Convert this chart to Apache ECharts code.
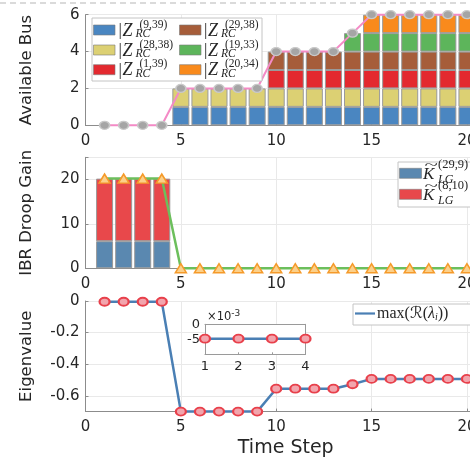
<!DOCTYPE html>
<html><head><meta charset="utf-8">
<script src="https://cdn.jsdelivr.net/npm/echarts@6/dist/echarts.min.js"></script>
<style>html,body{margin:0;padding:0;background:#fff;}#c{width:470px;height:460px;}</style>
</head><body><div id="c"></div>
<script>
// ---- data ----
const timeSteps = [1,2,3,4,5,6,7,8,9,10,11,12,13,14,15,16,17,18,19,20];
// top panel: stacked available buses
const busZ939  = [0,0,0,0,1,1,1,1,1,1,1,1,1,1,1,1,1,1,1,1];
const busZ2838 = [0,0,0,0,1,1,1,1,1,1,1,1,1,1,1,1,1,1,1,1];
const busZ139  = [0,0,0,0,0,0,0,0,0,1,1,1,1,1,1,1,1,1,1,1];
const busZ2938 = [0,0,0,0,0,0,0,0,0,1,1,1,1,1,1,1,1,1,1,1];
const busZ1933 = [0,0,0,0,0,0,0,0,0,0,0,0,0,1,1,1,1,1,1,1];
const busZ2034 = [0,0,0,0,0,0,0,0,0,0,0,0,0,0,1,1,1,1,1,1];
const availableBus = [0,0,0,0,2,2,2,2,2,4,4,4,4,5,6,6,6,6,6,6];
// middle panel: IBR droop gains
const droopK299 = [6.1,6.1,6.1,6.1,0,0,0,0,0,0,0,0,0,0,0,0,0,0,0,0];
const droopK810 = [14.1,14.1,14.1,14.1,0,0,0,0,0,0,0,0,0,0,0,0,0,0,0,0];
const droopTotal = [20.2,20.2,20.2,20.2,0,0,0,0,0,0,0,0,0,0,0,0,0,0,0,0];
// bottom panel: max real eigenvalue
const eigenMax = [-0.0048,-0.0048,-0.0048,-0.0048,-0.70,-0.70,-0.70,-0.70,-0.70,
                  -0.555,-0.555,-0.555,-0.555,-0.527,-0.493,-0.493,-0.493,-0.493,-0.493,-0.493];
// inset (x 1e-3)
const insetSteps = [1,2,3,4];
const insetEigen = [-4.8,-4.8,-4.8,-4.8];
// tick labels
const xTicks = [0,5,10,15,20];

// ---- layout helpers ----
const TXT = '#262626';
const FONT = 'DejaVu Sans';
const SERIF = 'Liberation Serif';
const PL = 85.5, PW = 400.5, XMAX = 21, UNIT = PW / XMAX;
const pairsRaw = (xs, vals) => xs.map((t, i) => [t, vals[i]]);
const nz = vals => vals.map(v => (v === 0 ? null : v));

function mainX(gi, withName) {
  return {
    type: 'value', gridIndex: gi, min: 0, max: XMAX, interval: 5,
    axisLine: { show: true, onZero: false, lineStyle: { color: '#8c8c8c' } },
    axisTick: { show: true, inside: true, length: 3, lineStyle: { color: '#8c8c8c' } },
    splitLine: { show: true, lineStyle: { color: '#e9e9e9' } },
    axisLabel: { color: TXT, fontSize: 15, fontFamily: FONT, margin: 8,
      formatter: v => xTicks.indexOf(v) >= 0 ? String(v) : '' },
    name: withName ? 'Time Step' : '', nameLocation: 'middle', nameGap: 27,
    nameTextStyle: { color: TXT, fontSize: 19, fontFamily: FONT }
  };
}
function mainY(gi, name, extra) {
  return Object.assign({
    type: 'value', gridIndex: gi,
    axisLine: { show: true, onZero: false, lineStyle: { color: '#8c8c8c' } },
    axisTick: { show: true, inside: true, length: 3, lineStyle: { color: '#8c8c8c' } },
    splitLine: { show: true, lineStyle: { color: '#e9e9e9' } },
    axisLabel: { color: TXT, fontSize: 15, fontFamily: FONT, margin: 6 },
    name: name, nameLocation: 'middle', nameGap: 50,
    nameTextStyle: { color: TXT, fontSize: 16.5, fontFamily: FONT }
  }, extra);
}

const barBorder = { borderColor: '#9a9a9a', borderWidth: 1 };
function bar(name, vals, color, axisIdx, stack) {
  return { name, type: 'bar', xAxisIndex: axisIdx, yAxisIndex: axisIdx, stack, barWidth: 17, z: 2,
    data: nz(vals), itemStyle: Object.assign({ color }, barBorder) };
}

// ---- legends (graphic) ----
const G = [];
G.push({ type: 'line', shape: { x1: 0, y1: 3, x2: 470, y2: 3 }, style: { stroke: '#b5b5b5', lineWidth: 1, lineDash: [6, 4] }, z: 100 });
G.push({ type: 'rect', shape: { x: 92, y: 18, width: 170, height: 63 }, style: { fill: '#fff', stroke: '#c4c4c4', lineWidth: 1 }, z: 100 });
const topLeg = [
  ['(9,39)', '#4a86c1', 0, 30], ['(28,38)', '#dcd073', 0, 50], ['(1,39)', '#e3292f', 0, 69.7],
  ['(29,38)', '#a65d3a', 1, 30], ['(19,33)', '#5db55b', 1, 50], ['(20,34)', '#f98a1c', 1, 69.7]
];
topLeg.forEach(([sup, col, c, cy]) => {
  const sx = c === 0 ? 93.5 : 179.5;
  const tx = c === 0 ? 117.5 : 203;
  G.push({ type: 'rect', shape: { x: sx, y: cy - 5, width: 21.5, height: 10 }, style: { fill: col, stroke: '#7a7a7a', lineWidth: 0.6 }, z: 101 });
  G.push({ type: 'text', x: tx + 1, y: cy + 1, style: { text: '|', font: '17px "' + SERIF + '"', fill: TXT, verticalAlign: 'middle' }, z: 101 });
  G.push({ type: 'text', x: tx + 5, y: cy + 1, style: { text: 'Z', font: 'italic 18px "' + SERIF + '"', fill: TXT, verticalAlign: 'middle' }, z: 101 });
  G.push({ type: 'text', x: tx + 22, y: cy - 5.5, style: { text: sup, font: '11.5px "' + SERIF + '"', fill: TXT, verticalAlign: 'middle' }, z: 101 });
  G.push({ type: 'text', x: tx + 18, y: cy + 4, style: { text: 'RC', font: 'italic 11.5px "' + SERIF + '"', fill: TXT, verticalAlign: 'middle' }, z: 101 });
});
G.push({ type: 'rect', shape: { x: 398, y: 162, width: 90, height: 45 }, style: { fill: '#fff', stroke: '#c4c4c4', lineWidth: 1 }, z: 100 });
[['(29,9)', '#5a88b0', 173.3], ['(8,10)', '#e8484b', 194.3]].forEach(([sup, col, cy]) => {
  G.push({ type: 'rect', shape: { x: 399.5, y: cy - 5, width: 22, height: 10 }, style: { fill: col, stroke: '#7a7a7a', lineWidth: 0.6 }, z: 101 });
  G.push({ type: 'text', x: 423, y: cy + 1, style: { text: 'K', font: 'italic 17px "' + SERIF + '"', fill: TXT, verticalAlign: 'middle' }, z: 101 });
  G.push({ type: 'text', x: 424.5, y: cy - 8, scaleX: 1.9, style: { text: '~', font: '13px "' + SERIF + '"', fill: TXT, verticalAlign: 'middle' }, z: 101 });
  G.push({ type: 'text', x: 438, y: cy - 9, style: { text: sup, font: '12.5px "' + SERIF + '"', fill: TXT, verticalAlign: 'middle' }, z: 101 });
  G.push({ type: 'text', x: 438, y: cy + 6.5, style: { text: 'LG', font: 'italic 12px "' + SERIF + '"', fill: TXT, verticalAlign: 'middle' }, z: 101 });
});
G.push({ type: 'rect', shape: { x: 353, y: 304, width: 130, height: 21 }, style: { fill: '#fff', stroke: '#c4c4c4', lineWidth: 1 }, z: 100 });
G.push({ type: 'line', shape: { x1: 355, y1: 313.5, x2: 375, y2: 313.5 }, style: { stroke: '#4a7fb4', lineWidth: 2.2 }, z: 101 });
G.push({ type: 'text', x: 377, y: 314, z: 101, style: {
  text: '{n|max(}{r|ℛ}{n|(}{l|λ}{s|i}{n|))}', verticalAlign: 'middle', fill: TXT,
  rich: {
    n: { fontSize: 16, fontFamily: SERIF, fill: TXT },
    r: { fontSize: 16, fontFamily: 'DejaVu Sans', fill: TXT },
    l: { fontSize: 16, fontFamily: SERIF, fontStyle: 'italic', fill: TXT },
    s: { fontSize: 10, fontFamily: SERIF, fontStyle: 'italic', fill: TXT, verticalAlign: 'bottom', padding: [6, 0, 0, 0] }
  } } });
G.push({ type: 'text', x: 207, y: 317, z: 101, style: {
  text: '{a|×10}{b|-3}', verticalAlign: 'middle', fill: TXT,
  rich: { a: { fontSize: 11.5, fontFamily: FONT, fill: TXT },
          b: { fontSize: 9, fontFamily: FONT, fill: TXT, verticalAlign: 'top', padding: [0, 0, 6, 0] } } } });

const gridBase = { outerBoundsMode: 'none', containLabel: false };
const cats = timeSteps.map(String);
const hiddenCat = gi => ({ type: 'category', gridIndex: gi, data: cats, show: false, boundaryGap: true });
const option = {
  animation: false,
  backgroundColor: '#fff',
  grid: [
    Object.assign({ left: PL, top: 14.7, width: PW, height: 110.6 }, gridBase),
    Object.assign({ left: PL, top: 157.3, width: PW, height: 111 }, gridBase),
    Object.assign({ left: PL, top: 301, width: PW, height: 110.6 }, gridBase),
    Object.assign({ left: 205, top: 324.3, width: 100.5, height: 30, show: true, backgroundColor: '#fff', borderWidth: 0, z: 1 }, gridBase),
    // hidden category grids for stacked bars, aligned so category k sits at value k
    Object.assign({ left: PL + UNIT * 0.5, top: 14.7, width: UNIT * timeSteps.length, height: 110.6 }, gridBase),
    Object.assign({ left: PL + UNIT * 0.5, top: 157.3, width: UNIT * timeSteps.length, height: 111 }, gridBase)
  ],
  xAxis: [
    mainX(0, false), mainX(1, false), mainX(2, true),
    { type: 'value', gridIndex: 3, min: 1, max: 4, interval: 1, z: 2,
      axisLine: { show: true, onZero: false, lineStyle: { color: '#9a9a9a' } },
      axisTick: { show: true, inside: true, length: 2, lineStyle: { color: '#9a9a9a' } },
      splitLine: { show: false },
      axisLabel: { color: TXT, fontSize: 13, fontFamily: FONT, margin: 6 } },
    { type: 'value', gridIndex: 3, position: 'top', min: 1, max: 4, interval: 1, z: 2,
      axisLine: { show: true, onZero: false, lineStyle: { color: '#9a9a9a' } },
      axisTick: { show: false }, splitLine: { show: false }, axisLabel: { show: false } },
    hiddenCat(4), hiddenCat(5)
  ],
  yAxis: [
    mainY(0, 'Available Bus', { min: 0, max: 6, interval: 2 }),
    mainY(1, 'IBR Droop Gain', { min: 0, max: 25, interval: 10 }),
    mainY(2, 'Eigenvalue', { min: -0.7, max: 0, splitNumber: 4 }),
    { type: 'value', gridIndex: 3, min: -10, max: 0, interval: 5, z: 2,
      axisLine: { show: true, onZero: false, lineStyle: { color: '#9a9a9a' } },
      axisTick: { show: true, inside: true, length: 2, lineStyle: { color: '#9a9a9a' } },
      splitLine: { show: false },
      axisLabel: { color: TXT, fontSize: 13, fontFamily: FONT, margin: 5, formatter: v => v === -10 ? '' : String(v) } },
    { type: 'value', gridIndex: 3, position: 'right', min: -10, max: 0, interval: 5, z: 2,
      axisLine: { show: true, onZero: false, lineStyle: { color: '#9a9a9a' } },
      axisTick: { show: false }, splitLine: { show: false }, axisLabel: { show: false } },
    { type: 'value', gridIndex: 4, min: 0, max: 6, show: false },
    { type: 'value', gridIndex: 5, min: 0, max: 25, show: false }
  ],
  graphic: G,
  series: [
    bar('Z939', busZ939, '#4a86c1', 5, 'bus'),
    bar('Z2838', busZ2838, '#dcd073', 5, 'bus'),
    bar('Z139', busZ139, '#e3292f', 5, 'bus'),
    bar('Z2938', busZ2938, '#a65d3a', 5, 'bus'),
    bar('Z1933', busZ1933, '#5db55b', 5, 'bus'),
    bar('Z2034', busZ2034, '#f98a1c', 5, 'bus'),
    { name: 'Available', type: 'line', xAxisIndex: 0, yAxisIndex: 0, z: 3, clip: false,
      data: pairsRaw(timeSteps, availableBus),
      lineStyle: { color: '#f48ac6', width: 2 },
      symbol: 'circle', symbolSize: [10, 8],
      itemStyle: { color: '#a5a5a5', borderColor: '#c9c9c9', borderWidth: 1.5 } },
    bar('K299', droopK299, '#5a88b0', 6, 'droop'),
    bar('K810', droopK810, '#e8484b', 6, 'droop'),
    { name: 'DroopTotal', type: 'line', xAxisIndex: 1, yAxisIndex: 1, z: 3, clip: false,
      data: pairsRaw(timeSteps, droopTotal),
      lineStyle: { color: '#6cbf5c', width: 2.5 },
      symbol: 'triangle', symbolSize: [11, 9],
      itemStyle: { color: '#fbd08a', borderColor: '#f59a2a', borderWidth: 1.5 } },
    { name: 'Eigen', type: 'line', xAxisIndex: 2, yAxisIndex: 2, z: 3, clip: false,
      data: pairsRaw(timeSteps, eigenMax),
      lineStyle: { color: '#4a7fb4', width: 2.5 },
      symbol: 'circle', symbolSize: [10, 8],
      itemStyle: { color: '#f2a5ad', borderColor: '#e8404b', borderWidth: 2 } },
    { name: 'EigenInset', type: 'line', xAxisIndex: 3, yAxisIndex: 3, z: 4, clip: false,
      data: pairsRaw(insetSteps, insetEigen),
      lineStyle: { color: '#4a7fb4', width: 2.5 },
      symbol: 'circle', symbolSize: [10, 8],
      itemStyle: { color: '#f2a5ad', borderColor: '#e8404b', borderWidth: 2 } }
  ]
};
option.yAxis[2].axisLabel.formatter = v => {
  const k = v / 0.2;
  if (Math.abs(k - Math.round(k)) > 1e-6) return '';
  return v === 0 ? '0' : v.toFixed(1);
};
option.yAxis[1].axisLabel.formatter = v => (v % 10 === 0 ? String(v) : '');

const chart = echarts.init(document.getElementById('c'), null, { renderer: 'canvas' });
chart.setOption(option);
</script></body></html>
